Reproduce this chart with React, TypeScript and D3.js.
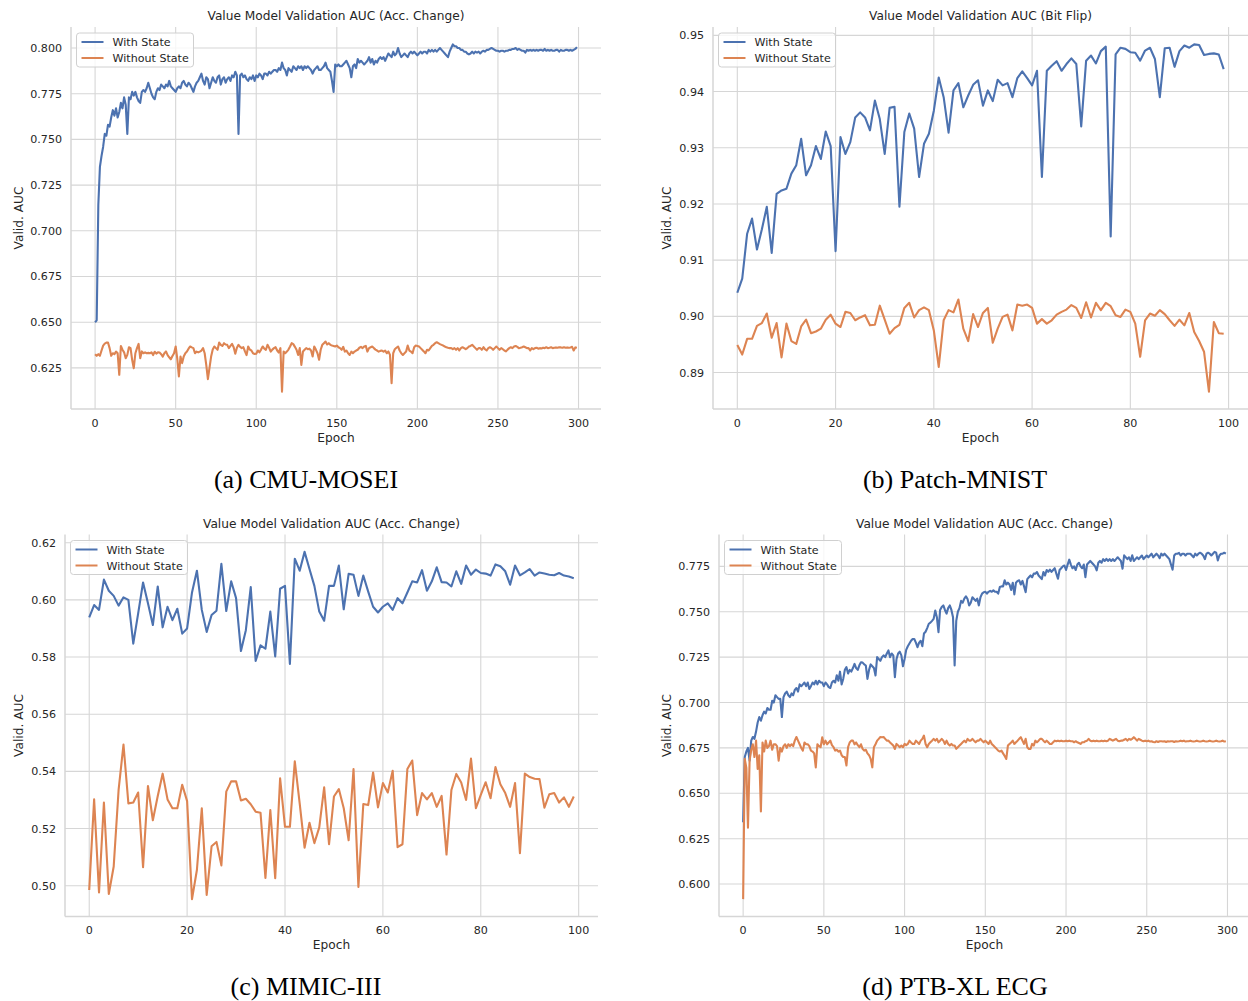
import React from "react";
import * as d3 from "d3";

// ---- (a) CMU-MOSEI, 300 epochs ----
const CMU_WITH = [
  0.650, 0.651, 0.714, 0.735, 0.741, 0.746, 0.753, 0.752, 0.758, 0.757,
  0.762, 0.766, 0.763, 0.767, 0.762, 0.765, 0.770, 0.767, 0.773, 0.769,
  0.753, 0.773, 0.772, 0.776, 0.774, 0.776, 0.773, 0.771, 0.770, 0.776,
  0.777, 0.776, 0.778, 0.781, 0.778, 0.775, 0.773, 0.772, 0.776, 0.778,
  0.777, 0.780, 0.779, 0.778, 0.780, 0.779, 0.782, 0.779, 0.778, 0.777,
  0.776, 0.778, 0.779, 0.778, 0.781, 0.782, 0.780, 0.779, 0.781, 0.780,
  0.778, 0.776, 0.779, 0.781, 0.782, 0.784, 0.786, 0.782, 0.780, 0.784,
  0.783, 0.778, 0.781, 0.784, 0.782, 0.781, 0.784, 0.785, 0.780, 0.783,
  0.784, 0.781, 0.783, 0.784, 0.782, 0.785, 0.784, 0.787, 0.785, 0.753,
  0.785, 0.786, 0.784, 0.785, 0.783, 0.782, 0.784, 0.783, 0.785, 0.782,
  0.785, 0.784, 0.786, 0.785, 0.783, 0.786, 0.786, 0.785, 0.787, 0.786,
  0.787, 0.788, 0.788, 0.787, 0.789, 0.788, 0.792, 0.789, 0.788, 0.785,
  0.789, 0.788, 0.787, 0.790, 0.789, 0.788, 0.790, 0.789, 0.790, 0.788,
  0.790, 0.789, 0.790, 0.789, 0.788, 0.786, 0.788, 0.789, 0.790, 0.788,
  0.788, 0.789, 0.790, 0.792, 0.789, 0.788, 0.787, 0.782, 0.776, 0.791,
  0.790, 0.791, 0.790, 0.790, 0.791, 0.792, 0.793, 0.791, 0.789, 0.784,
  0.790, 0.791, 0.789, 0.794, 0.792, 0.793, 0.792, 0.791, 0.792, 0.793,
  0.795, 0.792, 0.794, 0.791, 0.793, 0.792, 0.794, 0.795, 0.794, 0.795,
  0.793, 0.795, 0.797, 0.796, 0.795, 0.798, 0.796, 0.797, 0.800, 0.797,
  0.795, 0.796, 0.797, 0.796, 0.795, 0.797, 0.798, 0.797, 0.798, 0.797,
  0.796, 0.797, 0.798, 0.797, 0.798, 0.798, 0.797, 0.799, 0.798, 0.799,
  0.798, 0.799, 0.798, 0.799, 0.800, 0.799, 0.798, 0.797, 0.796, 0.795,
  0.798, 0.800, 0.802, 0.801, 0.801, 0.800, 0.800, 0.799, 0.799, 0.798,
  0.798, 0.797, 0.7965, 0.797, 0.798, 0.797, 0.798, 0.7975, 0.798, 0.797,
  0.798, 0.7985, 0.798, 0.799, 0.799, 0.7995, 0.800, 0.7995, 0.799, 0.7985,
  0.7985, 0.798, 0.7985, 0.7985, 0.798, 0.7985, 0.7985, 0.799, 0.799, 0.7995,
  0.7995, 0.800, 0.799, 0.7995, 0.799, 0.7985, 0.7985, 0.7975, 0.799, 0.7985,
  0.799, 0.7985, 0.799, 0.7985, 0.799, 0.7985, 0.799, 0.799, 0.7985, 0.7995,
  0.7985, 0.799, 0.7985, 0.799, 0.7985, 0.7985, 0.799, 0.799, 0.798, 0.799,
  0.7985, 0.7985, 0.799, 0.799, 0.7985, 0.799, 0.7985, 0.799, 0.7995, 0.8005,
];

const CMU_WITHOUT = [
  0.6325, 0.6316, 0.6325, 0.6316, 0.6345, 0.6372, 0.6383, 0.6388, 0.6389, 0.6358,
  0.6316, 0.6330, 0.6325, 0.6339, 0.6330, 0.6212, 0.6370, 0.6349, 0.6335, 0.6303,
  0.6321, 0.6363, 0.6358, 0.6294, 0.6248, 0.6330, 0.6358, 0.6381, 0.6303, 0.6340,
  0.6330, 0.6335, 0.6330, 0.6332, 0.6330, 0.6335, 0.6320, 0.6338, 0.6328, 0.6335,
  0.6334, 0.6325, 0.6312, 0.6330, 0.6340, 0.6320, 0.6308, 0.6297, 0.6315, 0.6330,
  0.6367, 0.6300, 0.6203, 0.6312, 0.6276, 0.6312, 0.6330, 0.6339, 0.6355, 0.6367,
  0.6362, 0.6358, 0.6330, 0.6339, 0.6335, 0.6339, 0.6345, 0.6358, 0.6330, 0.6265,
  0.6188, 0.6250, 0.6312, 0.6350, 0.6367, 0.6358, 0.6349, 0.6389, 0.6376, 0.6370,
  0.6385, 0.6378, 0.6376, 0.6358, 0.6370, 0.6381, 0.6363, 0.6327, 0.6360, 0.6376,
  0.6365, 0.6358, 0.6363, 0.6340, 0.6320, 0.6367, 0.6350, 0.6345, 0.6330, 0.6326,
  0.6327, 0.6345, 0.6335, 0.6350, 0.6367, 0.6355, 0.6349, 0.6376, 0.6360, 0.6339,
  0.6350, 0.6358, 0.6363, 0.6345, 0.6334, 0.6358, 0.6120, 0.6339, 0.6330, 0.6339,
  0.6350, 0.6367, 0.6385, 0.6380, 0.6365, 0.6349, 0.6321, 0.6358, 0.6266, 0.6340,
  0.6349, 0.6358, 0.6352, 0.6355, 0.6345, 0.6312, 0.6367, 0.6350, 0.6330, 0.6294,
  0.6349, 0.6376, 0.6385, 0.6394, 0.6378, 0.6385, 0.6376, 0.6372, 0.6370, 0.6367,
  0.6372, 0.6363, 0.6358, 0.6349, 0.6365, 0.6339, 0.6345, 0.6330, 0.6321, 0.6339,
  0.6330, 0.6339, 0.6345, 0.6349, 0.6360, 0.6365, 0.6358, 0.6367, 0.6370, 0.6339,
  0.6358, 0.6363, 0.6367, 0.6358, 0.6350, 0.6345, 0.6339, 0.6343, 0.6345, 0.6339,
  0.6345, 0.6330, 0.6340, 0.6321, 0.6166, 0.6330, 0.6352, 0.6360, 0.6367, 0.6345,
  0.6330, 0.6321, 0.6330, 0.6339, 0.6372, 0.6345, 0.6339, 0.6330, 0.6363, 0.6372,
  0.6370, 0.6367, 0.6358, 0.6349, 0.6340, 0.6330, 0.6349, 0.6345, 0.6358, 0.6370,
  0.6376, 0.6385, 0.6390, 0.6385, 0.6380, 0.6376, 0.6372, 0.6367, 0.6363, 0.6360,
  0.6358, 0.6358, 0.6352, 0.6358, 0.6349, 0.6358, 0.6345, 0.6358, 0.6363, 0.6358,
  0.6352, 0.6358, 0.6367, 0.6370, 0.6376, 0.6367, 0.6358, 0.6349, 0.6358, 0.6358,
  0.6349, 0.6363, 0.6352, 0.6345, 0.6358, 0.6363, 0.6358, 0.6349, 0.6358, 0.6367,
  0.6358, 0.6349, 0.6358, 0.6352, 0.6345, 0.6340, 0.6350, 0.6358, 0.6363, 0.6358,
  0.6367, 0.6370, 0.6365, 0.6358, 0.6360, 0.6363, 0.6367, 0.6363, 0.6358, 0.6358,
  0.6345, 0.6358, 0.6352, 0.6358, 0.6360, 0.6355, 0.6358, 0.6356, 0.6360, 0.6358,
  0.6363, 0.6358, 0.6360, 0.6363, 0.6358, 0.6360, 0.6362, 0.6360, 0.6363, 0.6362,
  0.6360, 0.6363, 0.6360, 0.6362, 0.6360, 0.6362, 0.6365, 0.6345, 0.6362, 0.6360,
];

// ---- (b) Patch-MNIST, 100 epochs ----
const MNIST_WITH = [
  0.9042, 0.9067, 0.9147, 0.9174, 0.9119, 0.9155, 0.9195, 0.9113, 0.9218, 0.9224,
  0.9227, 0.9254, 0.9269, 0.9316, 0.9251, 0.9269, 0.9303, 0.9280, 0.9329, 0.9303,
  0.9116, 0.9319, 0.9289, 0.9310, 0.9354, 0.9363, 0.9354, 0.9331, 0.9384, 0.9351,
  0.9289, 0.9371, 0.9373, 0.9195, 0.9328, 0.9361, 0.9334, 0.9248, 0.9307, 0.9325,
  0.9366, 0.9425, 0.9390, 0.9327, 0.9402, 0.9415, 0.9372, 0.9393, 0.9412, 0.9420,
  0.9375, 0.9402, 0.9383, 0.9421, 0.9411, 0.9415, 0.9390, 0.9424, 0.9436, 0.9424,
  0.9411, 0.9437, 0.9248, 0.9437, 0.9446, 0.9454, 0.9437, 0.9449, 0.9459, 0.9449,
  0.9338, 0.9455, 0.9464, 0.9450, 0.9472, 0.9480, 0.9142, 0.9466, 0.9478, 0.9476,
  0.9470, 0.9469, 0.9455, 0.9473, 0.9478, 0.9458, 0.9390, 0.9477, 0.9478, 0.9444,
  0.9472, 0.9482, 0.9478, 0.9484, 0.9483, 0.9465, 0.9467, 0.9468, 0.9466, 0.9440,
];

const MNIST_WITHOUT = [
  0.8949, 0.8932, 0.8960, 0.8960, 0.8983, 0.8988, 0.9005, 0.8962, 0.8988, 0.8927,
  0.8987, 0.8956, 0.8951, 0.8982, 0.8994, 0.8970, 0.8973, 0.8978, 0.8994, 0.9003,
  0.8987, 0.8981, 0.9008, 0.9006, 0.8993, 0.8998, 0.9002, 0.8984, 0.8985, 0.9019,
  0.8994, 0.8969, 0.8979, 0.8985, 0.9015, 0.9024, 0.8998, 0.9011, 0.9016, 0.9011,
  0.8975, 0.8910, 0.8993, 0.9011, 0.9007, 0.9030, 0.8978, 0.8956, 0.9004, 0.8981,
  0.9006, 0.9015, 0.8953, 0.8978, 0.8999, 0.9003, 0.8975, 0.9021, 0.9019, 0.9021,
  0.9015, 0.8987, 0.8995, 0.8987, 0.8993, 0.9003, 0.9008, 0.9012, 0.9020, 0.9015,
  0.8997, 0.9025, 0.8998, 0.9024, 0.9011, 0.9024, 0.9018, 0.9002, 0.8999, 0.9012,
  0.9008, 0.8987, 0.8928, 0.8993, 0.9005, 0.9001, 0.9011, 0.9004, 0.8993, 0.8983,
  0.8994, 0.8984, 0.9006, 0.8972, 0.8956, 0.8937, 0.8866, 0.8990, 0.8970, 0.8969,
];

// ---- (c) MIMIC-III, 100 epochs ----
const MIMIC_WITH = [
  0.5939, 0.5982, 0.5965, 0.6071, 0.6032, 0.6014, 0.5980, 0.6009, 0.6000, 0.5847,
  0.5953, 0.6061, 0.5988, 0.5912, 0.6047, 0.5904, 0.5976, 0.5929, 0.5969, 0.5882,
  0.5900, 0.6026, 0.6102, 0.5965, 0.5888, 0.5947, 0.5962, 0.6126, 0.5961, 0.6065,
  0.6006, 0.5821, 0.5894, 0.6045, 0.5786, 0.5841, 0.5829, 0.5959, 0.5802, 0.6039,
  0.6049, 0.5776, 0.6144, 0.6102, 0.6168, 0.6108, 0.6049, 0.5959, 0.5927, 0.6049,
  0.6049, 0.6120, 0.5967, 0.6091, 0.6088, 0.6014, 0.6085, 0.6029, 0.5976, 0.5956,
  0.5976, 0.5988, 0.5965, 0.6006, 0.5988, 0.6026, 0.6065, 0.6061, 0.6104, 0.6032,
  0.6065, 0.6114, 0.6062, 0.6061, 0.6047, 0.6100, 0.6056, 0.6120, 0.6088, 0.6106,
  0.6094, 0.6092, 0.6085, 0.6124, 0.6118, 0.6100, 0.6053, 0.6120, 0.6086, 0.6096,
  0.6108, 0.6085, 0.6096, 0.6092, 0.6088, 0.6086, 0.6094, 0.6085, 0.6082, 0.6076,
];

const MIMIC_WITHOUT = [
  0.4985, 0.5302, 0.4976, 0.5291, 0.4971, 0.5067, 0.5335, 0.5494, 0.5288, 0.5291,
  0.5326, 0.5065, 0.5349, 0.5229, 0.5314, 0.5392, 0.5302, 0.5271, 0.5271, 0.5353,
  0.5296, 0.4953, 0.5055, 0.5271, 0.4968, 0.5138, 0.5153, 0.5071, 0.5329, 0.5365,
  0.5365, 0.5298, 0.5304, 0.5285, 0.5259, 0.5255, 0.5027, 0.5265, 0.5026, 0.5376,
  0.5206, 0.5206, 0.5435, 0.5288, 0.5133, 0.5220, 0.5149, 0.5204, 0.5344, 0.5145,
  0.5312, 0.5338, 0.5271, 0.5159, 0.5408, 0.4996, 0.5286, 0.5282, 0.5396, 0.5274,
  0.5359, 0.5326, 0.5402, 0.5135, 0.5145, 0.5408, 0.5438, 0.5247, 0.5324, 0.5302,
  0.5324, 0.5276, 0.5314, 0.5109, 0.5335, 0.5391, 0.5361, 0.5300, 0.5445, 0.5271,
  0.5318, 0.5362, 0.5306, 0.5415, 0.5355, 0.5324, 0.5276, 0.5359, 0.5114, 0.5392,
  0.5380, 0.5374, 0.5373, 0.5273, 0.5320, 0.5324, 0.5291, 0.5309, 0.5276, 0.5312,
];

// ---- (d) PTB-XL ECG, 300 epochs ----
const PTB_WITH = [
  0.634, 0.670, 0.673, 0.675, 0.668, 0.679, 0.681, 0.680, 0.684, 0.689,
  0.692, 0.690, 0.693, 0.695, 0.694, 0.697, 0.696, 0.696, 0.701, 0.700,
  0.704, 0.703, 0.702, 0.702, 0.692, 0.703, 0.705, 0.706, 0.704, 0.703,
  0.705, 0.704, 0.707, 0.708, 0.706, 0.710, 0.709, 0.710, 0.711, 0.709,
  0.711, 0.7075, 0.709, 0.711, 0.710, 0.712, 0.710, 0.712, 0.711, 0.711,
  0.709, 0.711, 0.710, 0.7085, 0.708, 0.711, 0.712, 0.711, 0.715, 0.712,
  0.717, 0.710, 0.713, 0.718, 0.7195, 0.716, 0.718, 0.717, 0.719, 0.7213,
  0.719, 0.718, 0.7205, 0.7222, 0.722, 0.721, 0.7204, 0.713, 0.718, 0.721,
  0.720, 0.719, 0.7149, 0.725, 0.724, 0.723, 0.725, 0.726, 0.725, 0.727,
  0.7287, 0.725, 0.727, 0.726, 0.714, 0.724, 0.727, 0.728, 0.726, 0.720,
  0.724, 0.729, 0.731, 0.7325, 0.734, 0.735, 0.735, 0.733, 0.7305, 0.733,
  0.734, 0.731, 0.738, 0.739, 0.741, 0.7434, 0.744, 0.745, 0.7461, 0.7507,
  0.747, 0.7388, 0.751, 0.7526, 0.7535, 0.751, 0.749, 0.752, 0.7535, 0.751,
  0.747, 0.7204, 0.745, 0.750, 0.752, 0.756, 0.755, 0.7572, 0.7585, 0.757,
  0.7535, 0.755, 0.758, 0.757, 0.756, 0.7572, 0.7535, 0.758, 0.760, 0.7608,
  0.761, 0.760, 0.761, 0.7615, 0.761, 0.7618, 0.7610, 0.761, 0.760, 0.7636,
  0.764, 0.764, 0.7673, 0.765, 0.766, 0.765, 0.762, 0.766, 0.7596, 0.766,
  0.767, 0.7673, 0.765, 0.767, 0.764, 0.7608, 0.768, 0.769, 0.770, 0.769,
  0.771, 0.771, 0.7719, 0.770, 0.769, 0.768, 0.7719, 0.770, 0.773, 0.772,
  0.7732, 0.772, 0.773, 0.774, 0.771, 0.7682, 0.773, 0.774, 0.775, 0.7755,
  0.773, 0.776, 0.7787, 0.776, 0.774, 0.775, 0.773, 0.776, 0.777, 0.775,
  0.774, 0.776, 0.7691, 0.776, 0.777, 0.778, 0.777, 0.776, 0.775, 0.7728,
  0.777, 0.778, 0.777, 0.779, 0.778, 0.7792, 0.778, 0.779, 0.778, 0.779,
  0.778, 0.779, 0.780, 0.779, 0.778, 0.7737, 0.7811, 0.780, 0.779, 0.780,
  0.778, 0.7811, 0.778, 0.779, 0.780, 0.779, 0.780, 0.781, 0.779, 0.780,
  0.781, 0.780, 0.781, 0.782, 0.780, 0.781, 0.782, 0.781, 0.7795, 0.782,
  0.781, 0.782, 0.781, 0.780, 0.779, 0.776, 0.7732, 0.781, 0.782, 0.782,
  0.7824, 0.781, 0.782, 0.782, 0.781, 0.782, 0.782, 0.782, 0.781, 0.780,
  0.782, 0.781, 0.782, 0.7825, 0.782, 0.781, 0.779, 0.782, 0.7825, 0.782,
  0.781, 0.782, 0.783, 0.7825, 0.7783, 0.781, 0.782, 0.782, 0.7825, 0.782,
];

const PTB_WITHOUT = [
  0.5917, 0.669, 0.664, 0.631, 0.668, 0.674, 0.677, 0.670, 0.679, 0.6634,
  0.671, 0.640, 0.678, 0.673, 0.679, 0.675, 0.676, 0.679, 0.674, 0.677,
  0.677, 0.676, 0.668, 0.675, 0.673, 0.676, 0.677, 0.675, 0.677, 0.676,
  0.677, 0.676, 0.679, 0.681, 0.679, 0.677, 0.675, 0.6735, 0.678, 0.677,
  0.677, 0.676, 0.6735, 0.673, 0.672, 0.6643, 0.677, 0.676, 0.6754, 0.6809,
  0.677, 0.679, 0.677, 0.678, 0.679, 0.6765, 0.6754, 0.6735, 0.674, 0.673,
  0.6735, 0.671, 0.670, 0.6700, 0.6653, 0.6754, 0.678, 0.679, 0.679, 0.677,
  0.678, 0.6765, 0.6754, 0.677, 0.6745, 0.6735, 0.674, 0.672, 0.671, 0.669,
  0.6643, 0.6754, 0.677, 0.679, 0.680, 0.681, 0.6809, 0.681, 0.6800, 0.679,
  0.679, 0.678, 0.6772, 0.6763, 0.6744, 0.6772, 0.6763, 0.6754, 0.6763, 0.6754,
  0.6772, 0.6765, 0.6772, 0.679, 0.678, 0.6772, 0.6772, 0.679, 0.6781, 0.6772,
  0.679, 0.680, 0.6818, 0.6772, 0.6754, 0.6772, 0.6781, 0.679, 0.680, 0.679,
  0.680, 0.6781, 0.679, 0.680, 0.679, 0.6772, 0.679, 0.6772, 0.6763, 0.6772,
  0.6763, 0.6763, 0.6745, 0.6754, 0.6763, 0.6772, 0.6781, 0.679, 0.6781, 0.680,
  0.679, 0.679, 0.680, 0.679, 0.6781, 0.679, 0.679, 0.680, 0.679, 0.6781,
  0.679, 0.6781, 0.6772, 0.679, 0.6772, 0.6763, 0.6754, 0.6745, 0.6735, 0.673,
  0.6735, 0.672, 0.6705, 0.6689, 0.6763, 0.6772, 0.678, 0.679, 0.6772, 0.6781,
  0.679, 0.680, 0.6809, 0.679, 0.6772, 0.680, 0.6754, 0.6744, 0.6744, 0.6772,
  0.6763, 0.679, 0.6781, 0.679, 0.680, 0.680, 0.679, 0.6781, 0.679, 0.6781,
  0.6772, 0.6772, 0.6781, 0.679, 0.6787, 0.679, 0.6787, 0.679, 0.6787, 0.6787,
  0.679, 0.6787, 0.679, 0.6787, 0.6787, 0.6781, 0.6787, 0.6781, 0.6777, 0.6772,
  0.6781, 0.6781, 0.6787, 0.679, 0.680, 0.679, 0.6787, 0.679, 0.6787, 0.679,
  0.6787, 0.6787, 0.679, 0.6787, 0.679, 0.6787, 0.679, 0.680, 0.6795, 0.679,
  0.6795, 0.680, 0.679, 0.6787, 0.679, 0.679, 0.6795, 0.680, 0.679, 0.680,
  0.6795, 0.680, 0.6809, 0.680, 0.679, 0.680, 0.6795, 0.679, 0.6787, 0.679,
  0.6787, 0.679, 0.6785, 0.6787, 0.6783, 0.6781, 0.6787, 0.6783, 0.6787, 0.6787,
  0.6785, 0.6787, 0.6783, 0.6787, 0.6785, 0.6787, 0.6787, 0.6783, 0.6787, 0.6785,
  0.6787, 0.679, 0.6787, 0.679, 0.6785, 0.6787, 0.6787, 0.679, 0.6787, 0.6785,
  0.6787, 0.679, 0.6787, 0.6785, 0.6787, 0.679, 0.6787, 0.6785, 0.6787, 0.679,
  0.6787, 0.6785, 0.6787, 0.679, 0.6787, 0.6785, 0.6787, 0.679, 0.6785, 0.6787,
];

const EPOCH_TICKS_300 = [0, 50, 100, 150, 200, 250, 300];
const EPOCH_TICKS_100 = [0, 20, 40, 60, 80, 100];
const CMU_Y_TICKS = [0.625, 0.65, 0.675, 0.7, 0.725, 0.75, 0.775, 0.8];
const MNIST_Y_TICKS = [0.89, 0.9, 0.91, 0.92, 0.93, 0.94, 0.95];
const MIMIC_Y_TICKS = [0.5, 0.52, 0.54, 0.56, 0.58, 0.6, 0.62];
const PTB_Y_TICKS = [0.6, 0.625, 0.65, 0.675, 0.7, 0.725, 0.75, 0.775];
const SERIES_NAMES = ["With State", "Without State"];

const BLUE = "#4c72b0";
const ORANGE = "#dd8452";
const GRID = "#d6d6d6";
const TEXT = "#262626";
const SANS = "DejaVu Sans, sans-serif";

const panels = [
  {
    key: "a", title: "Value Model Validation AUC (Acc. Change)", caption: "(a) CMU-MOSEI",
    withState: CMU_WITH, withoutState: CMU_WITHOUT,
    xTicks: EPOCH_TICKS_300, yTicks: CMU_Y_TICKS, yFmt: ".3f",
    box: { left: 71, right: 601, top: 27, bottom: 409 }, ylabelX: 19, captionX: 306, captionY: 488,
  },
  {
    key: "b", title: "Value Model Validation AUC (Bit Flip)", caption: "(b) Patch-MNIST",
    withState: MNIST_WITH, withoutState: MNIST_WITHOUT,
    xTicks: EPOCH_TICKS_100, yTicks: MNIST_Y_TICKS, yFmt: ".2f",
    box: { left: 713, right: 1248, top: 27, bottom: 409 }, ylabelX: 667, captionX: 955, captionY: 488,
  },
  {
    key: "c", title: "Value Model Validation AUC (Acc. Change)", caption: "(c) MIMIC-III",
    withState: MIMIC_WITH, withoutState: MIMIC_WITHOUT,
    xTicks: EPOCH_TICKS_100, yTicks: MIMIC_Y_TICKS, yFmt: ".2f",
    box: { left: 65, right: 598, top: 534.5, bottom: 916.5 }, ylabelX: 19, captionX: 306, captionY: 995,
  },
  {
    key: "d", title: "Value Model Validation AUC (Acc. Change)", caption: "(d) PTB-XL ECG",
    withState: PTB_WITH, withoutState: PTB_WITHOUT,
    xTicks: EPOCH_TICKS_300, yTicks: PTB_Y_TICKS, yFmt: ".3f",
    box: { left: 719, right: 1250, top: 534.5, bottom: 916.5 }, ylabelX: 667, captionX: 955, captionY: 995,
  },
];

function Panel({ cfg }: { cfg: any }) {
  const { box } = cfg;
  const n = cfg.withState.length;
  const x = d3.scaleLinear()
    .domain([-(n - 1) * 0.05, (n - 1) * 1.05])
    .range([box.left, box.right]);
  const [lo, hi] = d3.extent(cfg.withState.concat(cfg.withoutState)) as [number, number];
  const pad = (hi - lo) * 0.05;
  const y = d3.scaleLinear().domain([lo - pad, hi + pad]).range([box.bottom, box.top]);
  const line = d3.line<number>().x((_, i) => x(i)).y(d => y(d));
  const fmt = d3.format(cfg.yFmt);
  const midX = (box.left + box.right) / 2;
  const midY = (box.top + box.bottom) / 2;
  const lx = box.left + 5.5;
  const ly = box.top + 6;

  return (
    <g>
      {cfg.xTicks.map(t => (
        <line key={"gx" + t} x1={x(t)} x2={x(t)} y1={box.top} y2={box.bottom} stroke={GRID} strokeWidth={1.1} />
      ))}
      {cfg.yTicks.map(t => (
        <line key={"gy" + t} x1={box.left} x2={box.right} y1={y(t)} y2={y(t)} stroke={GRID} strokeWidth={1.1} />
      ))}
      <line x1={box.left} x2={box.left} y1={box.top} y2={box.bottom} stroke={GRID} strokeWidth={1.5} />
      <line x1={box.left} x2={box.right} y1={box.bottom} y2={box.bottom} stroke={GRID} strokeWidth={1.5} />

      <path d={line(cfg.withState) || ""} fill="none" stroke={BLUE} strokeWidth={2.1} strokeLinejoin="round" />
      <path d={line(cfg.withoutState) || ""} fill="none" stroke={ORANGE} strokeWidth={2.1} strokeLinejoin="round" />

      {cfg.xTicks.map(t => (
        <text key={"tx" + t} x={x(t)} y={box.bottom + 17.5} textAnchor="middle" fontSize={11.1} fill={TEXT}>{t}</text>
      ))}
      {cfg.yTicks.map(t => (
        <text key={"ty" + t} x={box.left - 9} y={y(t) + 4} textAnchor="end" fontSize={11.1} fill={TEXT}>{fmt(t)}</text>
      ))}

      <text x={midX} y={box.top - 7} textAnchor="middle" fontSize={12.2} fill={TEXT}>{cfg.title}</text>
      <text x={midX} y={box.bottom + 32.5} textAnchor="middle" fontSize={12.2} fill={TEXT}>Epoch</text>
      <text transform={`translate(${cfg.ylabelX + 4.4},${midY}) rotate(-90)`} textAnchor="middle" fontSize={12.2} fill={TEXT}>Valid. AUC</text>

      <rect x={lx} y={ly} width={117} height={34} rx={3} fill="white" fillOpacity={0.8} stroke="#d0d0d0" strokeWidth={1} />
      {SERIES_NAMES.map((name, i) => (
        <g key={name}>
          <line x1={lx + 5} x2={lx + 27} y1={ly + 9 + i * 16} y2={ly + 9 + i * 16} stroke={i === 0 ? BLUE : ORANGE} strokeWidth={2} />
          <text x={lx + 36} y={ly + 9 + i * 16 + 4} fontSize={11.1} fill={TEXT}>{name}</text>
        </g>
      ))}

      <text x={cfg.captionX} y={cfg.captionY} textAnchor="middle" fontSize={26}
        fontFamily="Liberation Serif, serif" fill="#000">{cfg.caption}</text>
    </g>
  );
}

export default function App() {
  return (
    <svg width={1248} height={1001} fontFamily={SANS}
      style={{ position: "absolute", left: 0, top: 0, background: "white" }}>
      {panels.map(p => <Panel key={p.key} cfg={p} />)}
    </svg>
  );
}
